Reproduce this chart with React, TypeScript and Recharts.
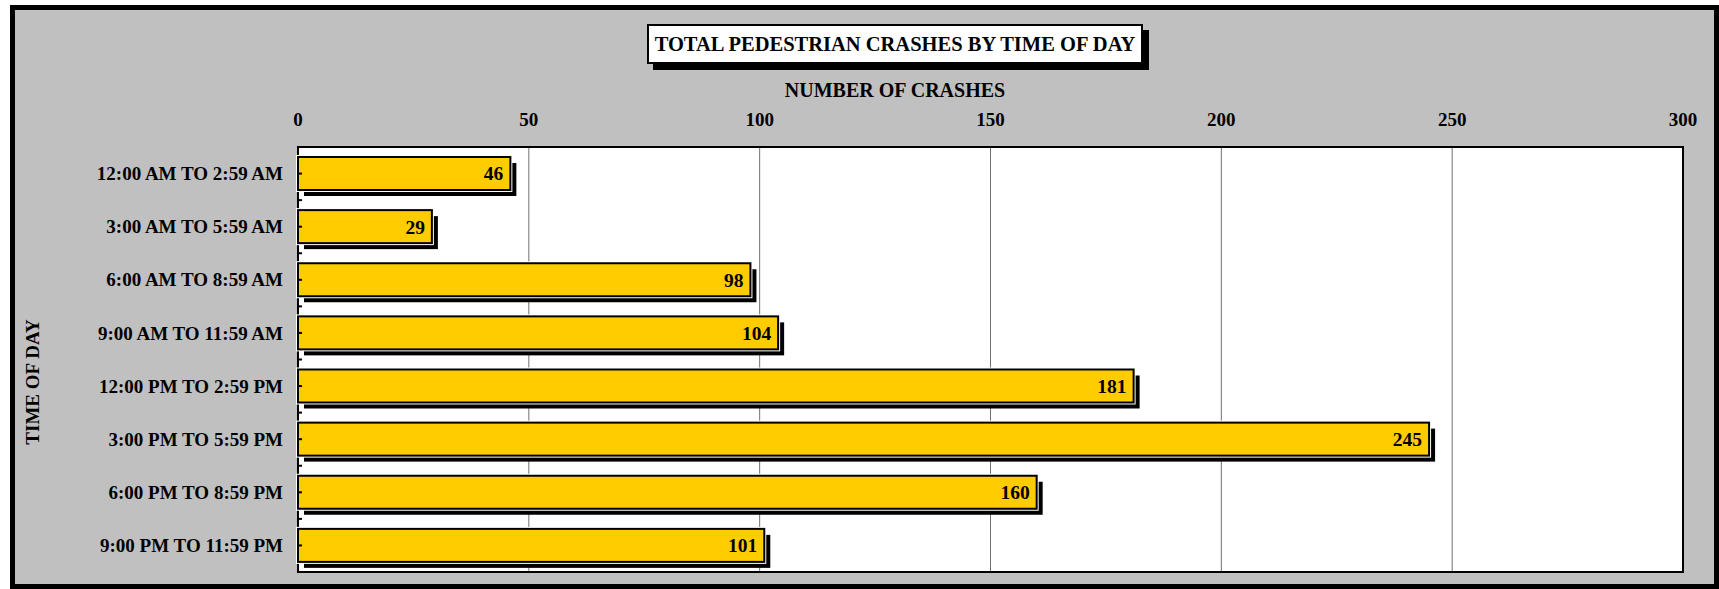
import React from "react";
import {
  BarChart,
  Bar,
  XAxis,
  YAxis,
  CartesianGrid,
  LabelList,
  ReferenceArea,
} from "recharts";

const timeSlots = [
  "12:00 AM TO 2:59 AM",
  "3:00 AM TO 5:59 AM",
  "6:00 AM TO 8:59 AM",
  "9:00 AM TO 11:59 AM",
  "12:00 PM TO 2:59 PM",
  "3:00 PM TO 5:59 PM",
  "6:00 PM TO 8:59 PM",
  "9:00 PM TO 11:59 PM",
];
const crashes = [46, 29, 98, 104, 181, 245, 160, 101];
const xTicks = [0, 50, 100, 150, 200, 250, 300];

const data = timeSlots.map((slot, i) => ({ slot, crashes: crashes[i] }));

const FONT = '"Liberation Serif", "Times New Roman", serif';
const W = 1719;
const H = 589;

function ShadowBar(props: any) {
  const { x, y, width, height } = props;
  if (!width || width <= 0) return null;
  return (
    <g>
      <rect x={x + 6} y={y + 6} width={width} height={height} fill="#000" />
      <rect x={x} y={y} width={width} height={height} fill="none" stroke="#fff" strokeWidth={4} />
      <rect x={x} y={y} width={width} height={height} fill="#FFCC00" stroke="#000" strokeWidth={2} />
    </g>
  );
}

function XTick(props: any) {
  const { x, y, payload } = props;
  return (
    <text x={x} y={y} textAnchor="middle" fontFamily={FONT} fontWeight="bold" fontSize={19} fill="#000">
      {payload.value}
    </text>
  );
}

function YTick(props: any) {
  const { x, y, payload } = props;
  const axisX = x + 15;
  const half = payload.offset || 0;
  return (
    <g>
      <text x={x} y={y} dy="0.35em" textAnchor="end" fontFamily={FONT} fontWeight="bold" fontSize={19} fill="#000">
        {payload.value}
      </text>
      <line x1={axisX} x2={axisX + 4} y1={y} y2={y} stroke="#000" strokeWidth={2} />
      <line x1={axisX} x2={axisX + 4} y1={y + half} y2={y + half} stroke="#000" strokeWidth={2} />
    </g>
  );
}

export default function App() {
  return (
    <div style={{ position: "absolute", left: 0, top: 0, width: W, height: H, fontFamily: FONT }}>
      <div
        style={{
          position: "absolute",
          left: 10,
          top: 5,
          width: W - 10,
          height: H - 5,
          boxSizing: "border-box",
          border: "5px solid #000",
          background: "#C0C0C0",
        }}
      />
      <div
        style={{
          position: "absolute",
          left: 647,
          top: 24,
          width: 496,
          height: 40,
          boxSizing: "border-box",
          border: "2px solid #000",
          background: "#fff",
          boxShadow: "6px 6px 0 #000",
          display: "flex",
          alignItems: "center",
          justifyContent: "center",
          fontWeight: "bold",
          fontSize: 20.5,
        }}
      >
        TOTAL PEDESTRIAN CRASHES BY TIME OF DAY
      </div>
      <div
        style={{
          position: "absolute",
          left: 690,
          top: 78,
          width: 410,
          textAlign: "center",
          fontWeight: "bold",
          fontSize: 20,
          lineHeight: "24px",
        }}
      >
        NUMBER OF CRASHES
      </div>
      <div
        style={{
          position: "absolute",
          left: 33 - 100,
          top: 382 - 12,
          width: 200,
          lineHeight: "24px",
          textAlign: "center",
          fontWeight: "bold",
          fontSize: 19,
          transform: "rotate(-90deg)",
        }}
      >
        TIME OF DAY
      </div>
      <div style={{ position: "absolute", left: 0, top: 0 }}>
        <BarChart
          width={W}
          height={H}
          data={data}
          layout="vertical"
          margin={{ top: 107, right: 36, bottom: 17, left: 0 }}
          barSize={33}
        >
          <CartesianGrid horizontal={false} vertical stroke="#707070" strokeWidth={1} fill="#fff" fillOpacity={1} />
          <XAxis
            type="number"
            orientation="top"
            domain={[0, 300]}
            ticks={xTicks}
            height={40}
            axisLine={false}
            tickLine={false}
            tickSize={0}
            tickMargin={21}
            tick={<XTick />}
            interval={0}
          />
          <YAxis
            type="category"
            dataKey="slot"
            width={298}
            axisLine={false}
            tickLine={false}
            tickSize={0}
            tickMargin={15}
            tick={<YTick />}
            interval={0}
          />
          <Bar dataKey="crashes" shape={<ShadowBar />} isAnimationActive={false}>
            <LabelList
              dataKey="crashes"
              position="insideRight"
              offset={7}
              fill="#000"
              fontFamily={FONT}
              fontWeight="bold"
              fontSize={19.5}
            />
          </Bar>
          <ReferenceArea x1={0} x2={300} fill="none" fillOpacity={0} stroke="#000" strokeWidth={2} ifOverflow="visible" />
        </BarChart>
      </div>
    </div>
  );
}
